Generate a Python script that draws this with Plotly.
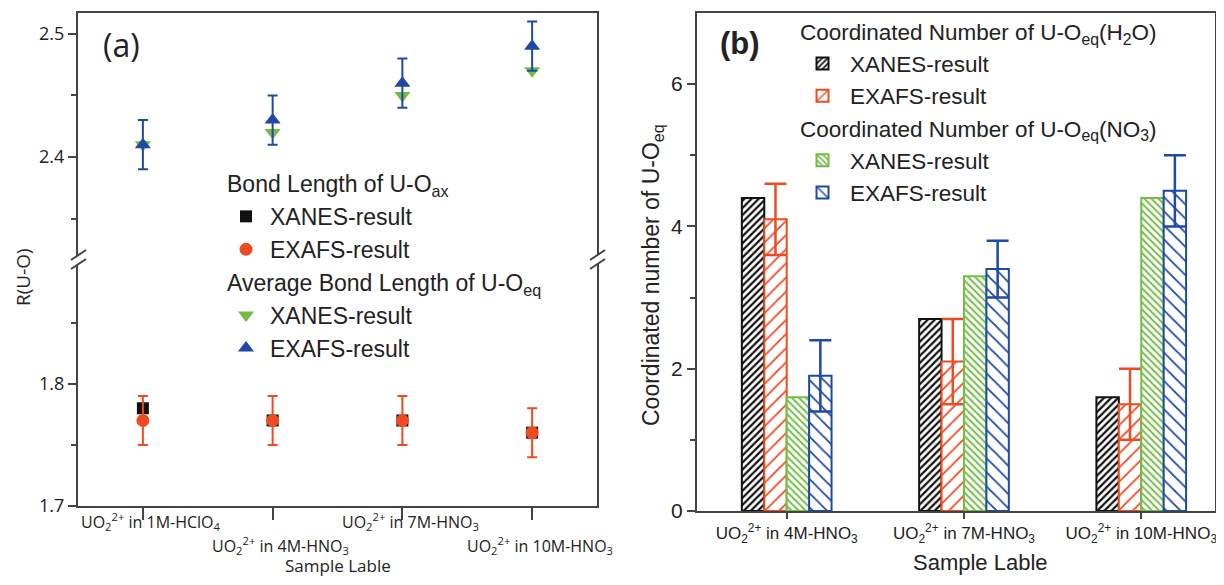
import plotly.graph_objects as go

# page body has an 8px margin: make the figure fit the 1224x585 window exactly
OFF = 8
W, H = 1224 - 2 * OFF, 585 - 2 * OFF

# ---------------- data ----------------
samples_a = ["1M-HClO4", "4M-HNO3", "7M-HNO3", "10M-HNO3"]
labels_a = ["UO<sub>2</sub><sup>2+</sup> in 1M-HClO<sub>4</sub>",
            "UO<sub>2</sub><sup>2+</sup> in 4M-HNO<sub>3</sub>",
            "UO<sub>2</sub><sup>2+</sup> in 7M-HNO<sub>3</sub>",
            "UO<sub>2</sub><sup>2+</sup> in 10M-HNO<sub>3</sub>"]
ax_xanes = [1.78, 1.77, 1.77, 1.76]
ax_exafs = [1.77, 1.77, 1.77, 1.76]
ax_exafs_err = [0.02, 0.02, 0.02, 0.02]
eq_xanes = [2.41, 2.42, 2.45, 2.47]
eq_exafs = [2.41, 2.43, 2.46, 2.49]
eq_exafs_err = [0.02, 0.02, 0.02, 0.02]

samples_b = ["4M-HNO3", "7M-HNO3", "10M-HNO3"]
labels_b = ["UO<sub>2</sub><sup>2+</sup> in 4M-HNO<sub>3</sub>",
            "UO<sub>2</sub><sup>2+</sup> in 7M-HNO<sub>3</sub>",
            "UO<sub>2</sub><sup>2+</sup> in 10M-HNO<sub>3</sub>"]
h2o_xanes = [4.4, 2.7, 1.6]
h2o_exafs = [4.1, 2.1, 1.5]
h2o_exafs_err = [0.5, 0.6, 0.5]
no3_xanes = [1.6, 3.3, 4.4]
no3_exafs = [1.9, 3.4, 4.5]
no3_exafs_err = [0.5, 0.4, 0.5]

# ---------------- style ----------------
BLACK = "#111111"
RED = "#F04A23"
GREEN = "#72BE45"
BLUE = "#1F49A6"
AXC = "#444444"
TXT = "#222222"
ARIAL = "Liberation Sans, Arial"
OPEN = "Open Sans"


def px(x):
    return min(1.0, max(0.0, (x - OFF) / W))


def py(y):
    return min(1.0, max(0.0, 1 - (y - OFF) / H))


xa_dom = [px(78), px(597)]
ya_low = [py(506), py(258)]
ya_up = [py(258), py(13)]
xb_dom = [px(697), px(1215)]
yb_dom = [py(511), py(13)]

fig = go.Figure()

# ---------------- panel (a) ----------------
fig.add_trace(go.Scatter(
    x=samples_a, y=ax_xanes, mode="markers", xaxis="x", yaxis="y",
    name="XANES-result", legend="legend", legendgroup="ax",
    legendgrouptitle=dict(text="Bond Length of U-O<sub>ax</sub>"),
    marker=dict(symbol="square", size=12, color=BLACK)))
fig.add_trace(go.Scatter(
    x=samples_a, y=ax_exafs, mode="markers", xaxis="x", yaxis="y",
    name="EXAFS-result", legend="legend", legendgroup="ax",
    marker=dict(symbol="circle", size=13, color=RED),
    error_y=dict(type="data", array=ax_exafs_err, color=RED, thickness=2, width=5)))
fig.add_trace(go.Scatter(
    x=samples_a, y=eq_xanes, mode="markers", xaxis="x2", yaxis="y2",
    name="XANES-result", legend="legend", legendgroup="eq",
    legendgrouptitle=dict(text="Average Bond Length of U-O<sub>eq</sub>"),
    marker=dict(symbol="triangle-down", size=14, color=GREEN)))
fig.add_trace(go.Scatter(
    x=samples_a, y=eq_exafs, mode="markers", xaxis="x2", yaxis="y2",
    name="EXAFS-result", legend="legend", legendgroup="eq",
    marker=dict(symbol="triangle-up", size=14, color=BLUE),
    error_y=dict(type="data", array=eq_exafs_err, color=BLUE, thickness=2, width=5)))

# ---------------- panel (b) ----------------
bar_specs = [
    (h2o_xanes, None, BLACK, "/", 5, 0.45, "h2o",
     "Coordinated Number of U-O<sub>eq</sub>(H<sub>2</sub>O)"),
    (h2o_exafs, h2o_exafs_err, RED, "/", 10, 0.18, "h2o", None),
    (no3_xanes, None, GREEN, "\\", 5, 0.4, "no3",
     "Coordinated Number of U-O<sub>eq</sub>(NO<sub>3</sub>)"),
    (no3_exafs, no3_exafs_err, BLUE, "\\", 10, 0.18, "no3", None),
]
names_b = ["XANES-result", "EXAFS-result", "XANES-result", "EXAFS-result"]
for (vals, err, col, shp, sz, sol, grp, gtitle), nm in zip(bar_specs, names_b):
    kw = {}
    if gtitle:
        kw["legendgrouptitle"] = dict(text=gtitle)
    if err is not None:
        kw["error_y"] = dict(type="data", array=err, color=col, thickness=2.5, width=11)
    fig.add_trace(go.Bar(
        x=samples_b, y=vals, xaxis="x3", yaxis="y4", name=nm,
        legend="legend2", legendgroup=grp,
        marker=dict(color="white", line=dict(color=col, width=2),
                    pattern=dict(shape=shp, size=sz, solidity=sol,
                                 fgcolor=col, bgcolor="white", fillmode="replace")),
        **kw))

# ---------------- axes ----------------
tickfont_a = dict(family=OPEN, size=18, color=TXT)
common_line = dict(showline=True, linecolor=AXC, linewidth=2, showgrid=False,
                   zeroline=False, ticks="outside", tickcolor=AXC, tickwidth=2,
                   automargin=False)

fig.update_layout(
    width=W, height=H, margin=dict(l=0, r=0, t=0, b=0, autoexpand=False),
    paper_bgcolor="white", plot_bgcolor="white",
    barmode="group", bargap=0.494, bargroupgap=0,
    showlegend=True,
    xaxis=dict(domain=xa_dom, anchor="y", type="category",
               categoryorder="array", categoryarray=samples_a,
               range=[-0.5, 3.5], showticklabels=False, ticklen=12, **common_line),
    xaxis2=dict(domain=xa_dom, anchor="y2", matches="x", side="top",
                type="category", showline=True, linecolor=AXC, linewidth=2,
                showgrid=False, zeroline=False, ticks="", showticklabels=False,
                automargin=False),
    yaxis=dict(domain=ya_low, anchor="x", range=[1.7, 1.903],
               tickvals=[1.7, 1.8], ticklen=8, mirror=True,
               minor=dict(tickvals=[1.75, 1.85], ticks="outside", ticklen=5,
                          tickcolor=AXC, tickwidth=2),
               tickfont=tickfont_a, **common_line),
    yaxis2=dict(domain=ya_up, anchor="x2", range=[2.318, 2.517],
                tickvals=[2.4, 2.5], ticklen=8, mirror=True,
                minor=dict(tickvals=[2.35, 2.45], ticks="outside", ticklen=5,
                           tickcolor=AXC, tickwidth=2),
                tickfont=tickfont_a, **common_line),
    xaxis3=dict(domain=xb_dom, anchor="y4", type="category",
                categoryorder="array", categoryarray=samples_b,
                tickvals=samples_b, ticktext=labels_b,
                range=[-0.506, 2.416], ticklen=6, mirror=True,
                tickfont=dict(family=ARIAL, size=17, color=TXT),
                **common_line),
    yaxis4=dict(domain=yb_dom, anchor="x3", range=[0, 7],
                tickvals=[0, 2, 4, 6], ticklen=8, mirror=True,
                minor=dict(tickvals=[1, 3, 5], ticks="outside", ticklen=5,
                           tickcolor=AXC, tickwidth=2),
                tickfont=dict(family=ARIAL, size=21, color=TXT),
                **common_line),
    legend=dict(x=px(222), y=py(162), xanchor="left", yanchor="top",
                bgcolor="rgba(0,0,0,0)", traceorder="grouped",
                tracegroupgap=0, itemwidth=38,
                font=dict(family=ARIAL, size=23, color=TXT),
                grouptitlefont=dict(family=ARIAL, size=23, color=TXT)),
    legend2=dict(x=px(795), y=py(10), xanchor="left", yanchor="top",
                 bgcolor="rgba(0,0,0,0)", traceorder="grouped",
                 tracegroupgap=0, itemwidth=45,
                 font=dict(family=ARIAL, size=22.5, color=TXT),
                 grouptitlefont=dict(family=ARIAL, size=22.5, color=TXT)),
)

# ---------------- annotations ----------------
ann = []
for i, (s, lab) in enumerate(zip(samples_a, labels_a)):
    ann.append(dict(x=s, xref="x", y=py(507 if i % 2 == 0 else 531), yref="paper",
                    yanchor="top", xanchor="center", xshift=8, text=lab, showarrow=False,
                    font=dict(family=OPEN, size=16, color=TXT)))


def txt(x, y, text, size, family, angle=0):
    return dict(x=px(x), y=py(y), xref="paper", yref="paper", text=text,
                xanchor="center", yanchor="middle", textangle=angle,
                showarrow=False, font=dict(family=family, size=size, color=TXT))


ann += [
    txt(338, 565, "Sample Lable", 17, OPEN),
    txt(23, 277, "R(U-O)", 19, OPEN, -90),
    txt(121, 45, "(a)", 32, OPEN),
    txt(980, 562, "Sample Lable", 22, ARIAL),
    txt(652, 275, "Coordinated number of U-O<sub>eq</sub>", 23, ARIAL, -90),
    txt(740, 43, "<b>(b)</b>", 31, ARIAL),
]
fig.update_layout(annotations=ann)

# ---------------- axis-break marks ----------------
shapes = []
for xc in (78, 597):
    x0, x1 = xc - 7, xc + 8
    path = (f"M {px(x0)},{py(260)} L {px(x1)},{py(250)} "
            f"L {px(x1)},{py(259)} L {px(x0)},{py(269)} Z")
    shapes.append(dict(type="path", path=path, xref="paper", yref="paper",
                       fillcolor="white", line=dict(width=0)))
    for dy in (0, 9):
        shapes.append(dict(type="line", xref="paper", yref="paper",
                           x0=px(x0), y0=py(260 + dy), x1=px(x1), y1=py(250 + dy),
                           line=dict(color=AXC, width=2)))
fig.update_layout(shapes=shapes)

fig.write_html("out.html")
